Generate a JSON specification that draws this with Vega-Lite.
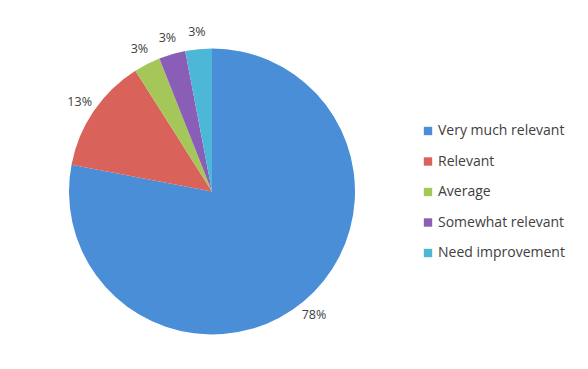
{
  "$schema": "https://vega.github.io/schema/vega-lite/v6.json",
  "width": 424,
  "height": 369,
  "padding": {"left": 0, "top": 7, "right": 0, "bottom": 0},
  "background": "white",
  "config": {"view": {"stroke": null}, "font": "Open Sans"},
  "data": {
    "values": [
      {"category": "Very much relevant", "value": 78, "order": 1, "label": "78%"},
      {"category": "Relevant", "value": 13, "order": 2, "label": "13%"},
      {"category": "Average", "value": 3, "order": 3, "label": "3%"},
      {"category": "Somewhat relevant", "value": 3, "order": 4, "label": "3%"},
      {"category": "Need improvement", "value": 3, "order": 5, "label": "3%"}
    ]
  },
  "encoding": {
    "theta": {"field": "value", "type": "quantitative", "stack": true},
    "order": {"field": "order", "type": "quantitative"}
  },
  "layer": [
    {
      "mark": {"type": "arc", "outerRadius": 143},
      "encoding": {
        "color": {
          "field": "category",
          "type": "nominal",
          "sort": ["Very much relevant", "Relevant", "Average", "Somewhat relevant", "Need improvement"],
          "scale": {
            "domain": ["Very much relevant", "Relevant", "Average", "Somewhat relevant", "Need improvement"],
            "range": ["#4A8ED8", "#D9625B", "#A5C75A", "#8A5DB6", "#4DB7D8"]
          },
          "legend": {
            "title": null,
            "orient": "none",
            "legendX": 421,
            "legendY": 117,
            "symbolType": "square",
            "symbolSize": 70,
            "symbolStrokeWidth": 0,
            "labelFontSize": 14,
            "labelColor": "#404040",
            "labelFont": "Open Sans",
            "rowPadding": 16.5,
            "labelOffset": 3
          }
        }
      }
    },
    {
      "mark": {"type": "text", "radius": 160, "fontSize": 12.5, "color": "#404040", "font": "Open Sans"},
      "encoding": {"text": {"field": "label", "type": "nominal"}}
    }
  ]
}
